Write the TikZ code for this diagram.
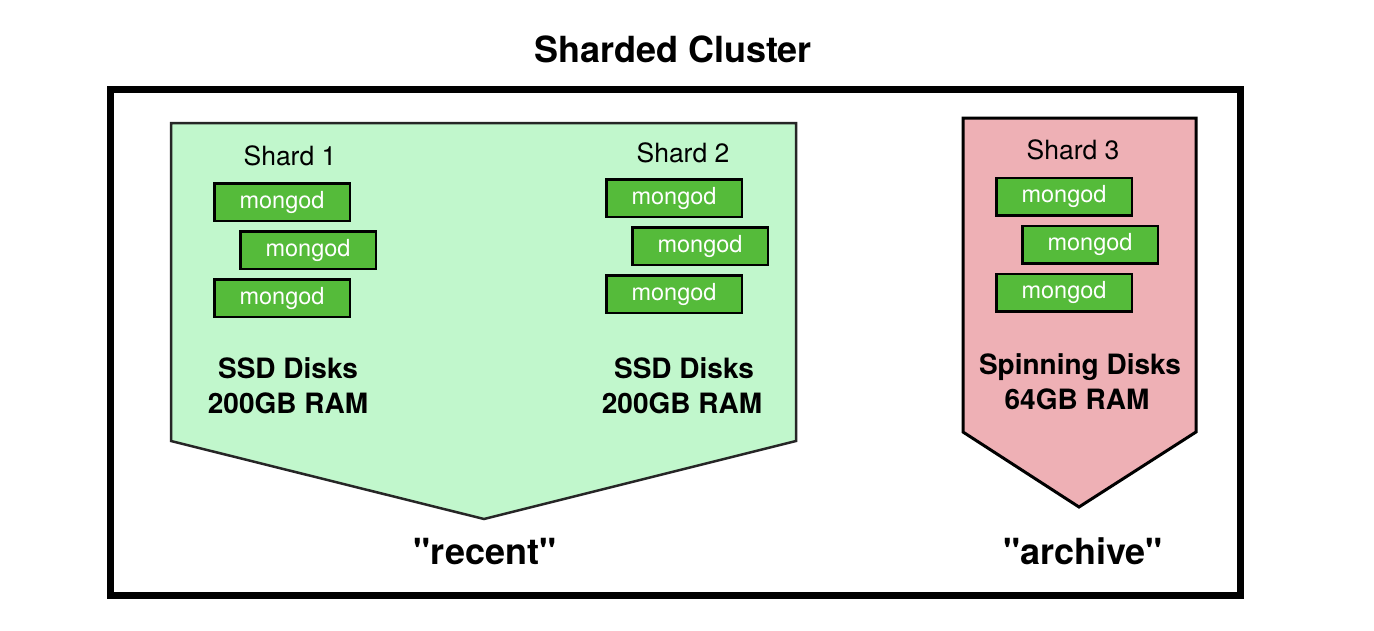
\documentclass[tikz,border=0pt]{standalone}
\usepackage{fontspec}
\setmainfont{TeX Gyre Heros}[Ligatures=TeXOff]
\definecolor{lgreen}{HTML}{C1F7CC}
\definecolor{lpink}{HTML}{EEB0B5}
\definecolor{mgreen}{HTML}{55BB3A}
\begin{document}
\begin{tikzpicture}[x=1pt,y=-1pt,
  mongod/.style={draw=black, line width=2.5pt, fill=mgreen, minimum width=135.5pt, minimum height=37.5pt, inner sep=0pt, text=white, font=\fontsize{23.5}{26}\selectfont},
  shardlbl/.style={anchor=base, inner sep=0pt, font=\fontsize{26.5}{30}\selectfont},
  spec/.style={anchor=base, inner sep=0pt, font=\fontsize{28}{32}\selectfont\bfseries},
  big/.style={anchor=base, inner sep=0pt, font=\fontsize{36}{40}\selectfont\bfseries}]
\useasboundingbox (0,0) rectangle (1374,630);
\fill[white] (0,0) rectangle (1374,630);
% outer frame
\draw[line width=7pt] (110,89) rectangle (1240,595);
% zone shapes
\draw[line width=2.5pt, draw=black!85, fill=lgreen] (171,123) -- (796,123) -- (796,441) -- (484,519) -- (171,441) -- cycle;
\draw[line width=3pt, draw=black, fill=lpink] (963,118) -- (1196,118) -- (1196,432) -- (1079,507) -- (963,432) -- cycle;
% title
\node[big] (title) at (673,62) {Sharded Cluster};
% shard 1
\node[shardlbl] (s1) at (290,165) {Shard 1};
\node[mongod] (m11) at (282,202) {mongod};
\node[mongod] (m12) at (308,250) {mongod};
\node[mongod] (m13) at (282,298) {mongod};
\node[spec] (d1) at (288,378) {SSD Disks};
\node[spec] (r1) at (288,413) {200GB RAM};
% shard 2
\node[shardlbl] (s2) at (683,162) {Shard 2};
\node[mongod] (m21) at (674,198) {mongod};
\node[mongod] (m22) at (700,246) {mongod};
\node[mongod] (m23) at (674,294) {mongod};
\node[spec] (d2) at (684,378) {SSD Disks};
\node[spec] (r2) at (682,413) {200GB RAM};
% shard 3
\node[shardlbl] (s3) at (1073,159) {Shard 3};
\node[mongod] (m31) at (1064,196.5) {mongod};
\node[mongod] (m32) at (1090,244.5) {mongod};
\node[mongod] (m33) at (1064,292.5) {mongod};
\node[spec] (d3) at (1080,374) {Spinning Disks};
\node[spec] (r3) at (1077,409) {64GB RAM};
% zone labels
\node[big] (recent) at (485,564) {"recent"};
\node[big] (archive) at (1083,564) {"archive"};
\end{tikzpicture}
\end{document}
